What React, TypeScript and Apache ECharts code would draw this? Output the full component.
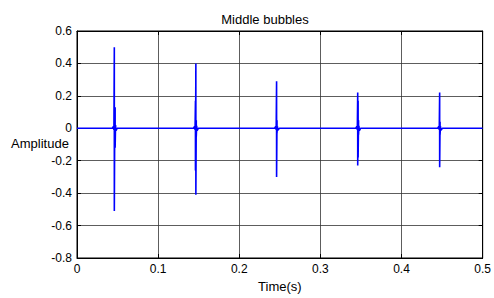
import React, { useEffect, useRef } from "react";
import * as echarts from "echarts";

const chartTitle = "Middle bubbles";
const xName = "Time(s)";
const yName = "Amplitude";
const yTicks = { min: -0.8, max: 0.6, interval: 0.2 };
const xTicks = { min: 0, max: 0.5, interval: 0.1 };

// Each spike: [time, amplitude] pairs
const spike1: [number, number][] = [
  [0.0435, 0], [0.045, 0.012], [0.0455, -0.01], [0.046, 0.5], [0.046, -0.51], [0.0465, 0.02],
  [0.047, 0.13], [0.047, -0.12], [0.0475, 0.02], [0.048, -0.015], [0.0495, 0],
];
const spike2: [number, number][] = [
  [0.1435, 0], [0.145, 0.012], [0.1455, -0.01], [0.146, 0.17], [0.146, -0.26], [0.1465, 0.4],
  [0.1465, -0.41], [0.147, 0.05], [0.147, -0.05], [0.1475, 0.015], [0.148, -0.015], [0.1495, 0],
];
const spike3: [number, number][] = [
  [0.2435, 0], [0.245, 0.012], [0.2455, -0.01], [0.246, 0.29], [0.246, -0.3], [0.2465, 0.05],
  [0.2465, -0.03], [0.247, 0.012], [0.2475, -0.012], [0.2495, 0],
];
const spike4: [number, number][] = [
  [0.3435, 0], [0.345, 0.012], [0.3455, -0.01], [0.346, 0.22], [0.346, -0.23], [0.3465, 0.17],
  [0.3465, -0.18], [0.347, 0.05], [0.347, -0.04], [0.3475, 0.015], [0.348, -0.015], [0.3495, 0],
];
const spike5: [number, number][] = [
  [0.4445, 0], [0.446, 0.012], [0.4465, -0.01], [0.447, 0.22], [0.447, -0.24], [0.4475, 0.04],
  [0.4475, -0.04], [0.448, 0.012], [0.4485, -0.012], [0.4505, 0],
];
const baselineStart: [number, number] = [0, 0];
const baselineEnd: [number, number] = [0.5, 0];

export default function App() {
  const ref = useRef<HTMLDivElement>(null);
  useEffect(() => {
    if (!ref.current) return;
    const chart = echarts.init(ref.current, null, { renderer: "svg" });
    const data = [baselineStart, ...spike1, ...spike2, ...spike3, ...spike4, ...spike5, baselineEnd];
    const font = "Liberation Sans, Arial, sans-serif";
    const fmt = (v: number) => String(Number(v.toFixed(1)));
    const tick = { show: true, inside: true, length: 4, lineStyle: { color: "#000" } };
    const line = { show: true, onZero: false, lineStyle: { color: "#000" } };
    const split = { show: true, lineStyle: { color: "#333", width: 0.8 } };
    chart.setOption({
      animation: false,
      backgroundColor: "#ffffff",
      grid: {
        left: 77,
        right: 11,
        top: 31,
        bottom: 35,
        show: true,
        borderColor: "#000",
        borderWidth: 1,
        backgroundColor: "#fff",
      },
      graphic: [
        {
          type: "text",
          x: 265,
          y: 19,
          style: {
            text: chartTitle,
            fontFamily: font,
            fontSize: 13,
            fill: "#000",
            textAlign: "center",
            textVerticalAlign: "middle",
          },
        },
        {
          type: "text",
          x: 40,
          y: 143,
          style: {
            text: yName,
            fontFamily: font,
            fontSize: 13,
            fill: "#000",
            textAlign: "center",
            textVerticalAlign: "middle",
          },
        },
      ],
      xAxis: [
        {
          type: "value",
          min: xTicks.min,
          max: xTicks.max,
          interval: xTicks.interval,
          name: xName,
          nameLocation: "middle",
          nameGap: 22,
          nameTextStyle: { fontFamily: font, fontSize: 13, color: "#000" },
          axisLine: line,
          axisTick: tick,
          axisLabel: { fontFamily: font, fontSize: 12, color: "#000", margin: 5, formatter: fmt },
          splitLine: split,
        },
        {
          type: "value",
          position: "top",
          min: xTicks.min,
          max: xTicks.max,
          interval: xTicks.interval,
          axisLine: line,
          axisTick: tick,
          axisLabel: { show: false },
          splitLine: { show: false },
        },
      ],
      yAxis: [
        {
          type: "value",
          min: yTicks.min,
          max: yTicks.max,
          interval: yTicks.interval,
          axisLine: line,
          axisTick: tick,
          axisLabel: { fontFamily: font, fontSize: 12, color: "#000", margin: 5, formatter: fmt },
          splitLine: split,
        },
        {
          type: "value",
          position: "right",
          min: yTicks.min,
          max: yTicks.max,
          interval: yTicks.interval,
          axisLine: line,
          axisTick: tick,
          axisLabel: { show: false },
          splitLine: { show: false },
        },
      ],
      series: [
        {
          type: "line",
          xAxisIndex: 0,
          yAxisIndex: 0,
          data,
          symbol: "none",
          lineStyle: { color: "#0000ff", width: 1.6 },
        },
      ],
    });
    return () => chart.dispose();
  }, []);
  return (
    <div
      ref={ref}
      style={{ position: "fixed", left: 0, top: 0, width: 494, height: 298 }}
    />
  );
}
